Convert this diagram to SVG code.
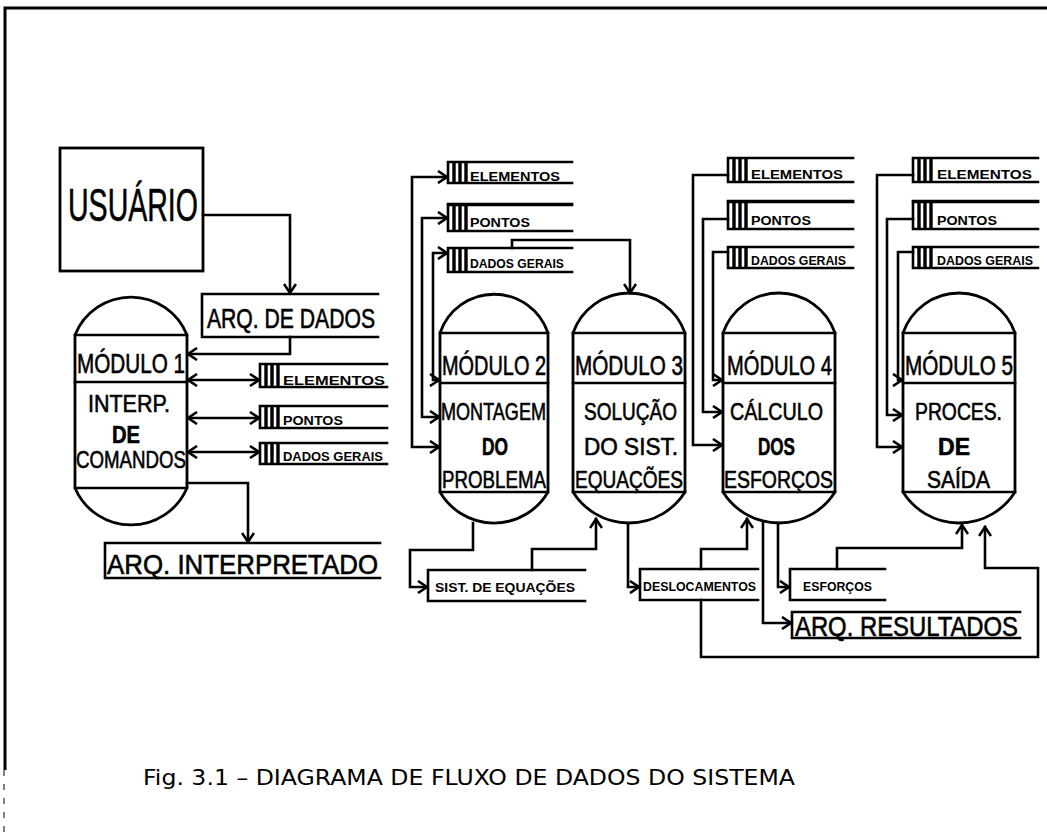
<svg xmlns="http://www.w3.org/2000/svg" width="1047" height="832" viewBox="0 0 1047 832">
<defs>
<style>
.ln{fill:none;stroke:#000;stroke-width:2.6;stroke-linejoin:miter;stroke-linecap:square}
.bar{fill:none;stroke:#000;stroke-width:3.4}
.sh{fill:#fff;stroke:#000;stroke-width:2.8}
.big{font-family:"Liberation Sans",Arial,sans-serif;font-size:27px;fill:#000;stroke:#000;stroke-width:0.6}
.mid{font-family:"Liberation Sans",Arial,sans-serif;font-size:24px;fill:#000;stroke:#000;stroke-width:0.6}
.sm{font-family:"Liberation Sans",Arial,sans-serif;font-size:12px;font-weight:bold;fill:#000}
.ttl{font-family:"DejaVu Sans",sans-serif;font-size:22px;fill:#000}
</style>
<marker id="ah" markerUnits="userSpaceOnUse" markerWidth="14" markerHeight="14" refX="11" refY="7" orient="auto-start-reverse">
<path d="M2,1 L11,7 L2,13" fill="none" stroke="#000" stroke-width="2.6"/>
</marker>
</defs>
<rect width="1047" height="832" fill="#fff"/>
<!-- frame -->
<path d="M5,770 V8 H1047" fill="none" stroke="#000" stroke-width="3"/>
<path d="M4,770 V832" fill="none" stroke="#000" stroke-width="1" stroke-dasharray="6,8"/>

<!-- USUARIO -->
<g id="usuario">
<rect x="60" y="148" width="143" height="123" class="sh"/>
<text x="68" y="221" class="big" style="font-size:46px" textLength="130" lengthAdjust="spacingAndGlyphs">USUÁRIO</text>
</g>

<!-- stores -->
<g id="arq-dados">
<path d="M378,294 H202 V337 H378" class="ln"/>
<text x="207" y="328" class="big" textLength="168" lengthAdjust="spacingAndGlyphs">ARQ. DE DADOS</text>
</g>
<g id="arq-interpretado">
<path d="M380,543 H105 V578 H380" class="ln"/>
<text x="107" y="574" class="big" textLength="271" lengthAdjust="spacingAndGlyphs">ARQ. INTERPRETADO</text>
</g>
<g id="arq-resultados">
<path d="M1020,612 H792 V638 H1020" class="ln"/>
<text x="795" y="636" class="big" textLength="223" lengthAdjust="spacingAndGlyphs">ARQ. RESULTADOS</text>
</g>

<!-- module 1 stores -->
<g id="m1-elementos">
<path d="M387,364 H260 V387 H387" class="ln"/>
<path d="M266,364 V387 M272,364 V387 M278,364 V387" class="bar"/>
<text x="283" y="385" class="sm" textLength="102" lengthAdjust="spacingAndGlyphs">ELEMENTOS</text>
</g>
<g id="m1-pontos">
<path d="M387,406 H260 V428 H387" class="ln"/>
<path d="M266,406 V428 M272,406 V428 M278,406 V428" class="bar"/>
<text x="283" y="425" class="sm" textLength="60" lengthAdjust="spacingAndGlyphs">PONTOS</text>
</g>
<g id="m1-dados">
<path d="M387,443 H260 V464 H387" class="ln"/>
<path d="M266,443 V464 M272,443 V464 M278,443 V464" class="bar"/>
<text x="283" y="461" class="sm" textLength="100" lengthAdjust="spacingAndGlyphs">DADOS GERAIS</text>
</g>

<!-- module 2 stores -->
<g id="m2-elementos">
<path d="M572,162 H448 V183 H572" class="ln"/>
<path d="M454,162 V183 M460,162 V183 M466,162 V183" class="bar"/>
<text x="470" y="181" class="sm" textLength="90" lengthAdjust="spacingAndGlyphs">ELEMENTOS</text>
</g>
<g id="m2-pontos">
<path d="M572,205 H448 V231 H572" class="ln"/>
<path d="M454,205 V231 M460,205 V231 M466,205 V231" class="bar"/>
<path d="M448,204 H572" class="ln" stroke-width="4"/>
<text x="470" y="227" class="sm" textLength="60" lengthAdjust="spacingAndGlyphs">PONTOS</text>
</g>
<g id="m2-dados">
<path d="M572,248 H448 V272 H572" class="ln"/>
<path d="M454,248 V272 M460,248 V272 M466,248 V272" class="bar"/>
<text x="470" y="268" class="sm" textLength="94" lengthAdjust="spacingAndGlyphs">DADOS GERAIS</text>
</g>

<!-- module 4 stores -->
<g id="m4-elementos">
<path d="M853,158 H728 V182 H853" class="ln"/>
<path d="M734,158 V182 M740,158 V182 M746,158 V182" class="bar"/>
<text x="751" y="179" class="sm" textLength="92" lengthAdjust="spacingAndGlyphs">ELEMENTOS</text>
</g>
<g id="m4-pontos">
<path d="M853,202 H728 V229 H853" class="ln"/>
<path d="M734,202 V229 M740,202 V229 M746,202 V229" class="bar"/>
<path d="M728,201 H853" class="ln" stroke-width="4"/>
<text x="751" y="225" class="sm" textLength="60" lengthAdjust="spacingAndGlyphs">PONTOS</text>
</g>
<g id="m4-dados">
<path d="M853,247 H728 V268 H853" class="ln"/>
<path d="M734,247 V268 M740,247 V268 M746,247 V268" class="bar"/>
<text x="751" y="265" class="sm" textLength="95" lengthAdjust="spacingAndGlyphs">DADOS GERAIS</text>
</g>

<!-- module 5 stores -->
<g id="m5-elementos">
<path d="M1038,158 H913 V182 H1038" class="ln"/>
<path d="M919,158 V182 M925,158 V182 M931,158 V182" class="bar"/>
<text x="937" y="179" class="sm" textLength="95" lengthAdjust="spacingAndGlyphs">ELEMENTOS</text>
</g>
<g id="m5-pontos">
<path d="M1038,202 H913 V229 H1038" class="ln"/>
<path d="M919,202 V229 M925,202 V229 M931,202 V229" class="bar"/>
<path d="M913,201 H1038" class="ln" stroke-width="4"/>
<text x="937" y="225" class="sm" textLength="60" lengthAdjust="spacingAndGlyphs">PONTOS</text>
</g>
<g id="m5-dados">
<path d="M1038,247 H913 V268 H1038" class="ln"/>
<path d="M919,247 V268 M925,247 V268 M931,247 V268" class="bar"/>
<text x="937" y="265" class="sm" textLength="96" lengthAdjust="spacingAndGlyphs">DADOS GERAIS</text>
</g>

<!-- bottom stores -->
<g id="sist-equacoes">
<path d="M585,570 H428 V601 H585" class="ln"/>
<text x="435" y="592" class="sm" textLength="140" lengthAdjust="spacingAndGlyphs">SIST. DE EQUAÇÕES</text>
</g>
<g id="deslocamentos">
<path d="M758,569 H640 V600 H758" class="ln"/>
<text x="643" y="591" class="sm" textLength="113" lengthAdjust="spacingAndGlyphs">DESLOCAMENTOS</text>
</g>
<g id="esforcos">
<path d="M885,569 H790 V600 H885" class="ln"/>
<text x="803" y="591" class="sm" textLength="69" lengthAdjust="spacingAndGlyphs">ESFORÇOS</text>
</g>

<!-- modules -->
<g id="modulo1">
<path d="M75,335 A60.3,60.3 0 0 1 187,335 V488 A60.9,60.9 0 0 1 75,488 Z" class="sh"/>
<path d="M75,335 H187 M75,382 H187 M75,488 H187" class="ln"/>
<text x="77" y="373" class="big" textLength="108" lengthAdjust="spacingAndGlyphs">MÓDULO 1</text>
<text x="88" y="412" class="mid" textLength="82" lengthAdjust="spacingAndGlyphs">INTERP.</text>
<text x="112" y="443" class="mid" style="font-weight:bold" textLength="28" lengthAdjust="spacingAndGlyphs">DE</text>
<text x="76" y="468" class="mid" textLength="110" lengthAdjust="spacingAndGlyphs">COMANDOS</text>
</g>
<g id="modulo2">
<path d="M440,333 A57,57 0 0 1 548,333 V492 A62.5,62.5 0 0 1 440,492 Z" class="sh"/>
<path d="M440,333 H548 M440,383 H548 M440,492 H548" class="ln"/>
<text x="442" y="375" class="big" textLength="104" lengthAdjust="spacingAndGlyphs">MÓDULO 2</text>
<text x="441" y="420" class="mid" textLength="105" lengthAdjust="spacingAndGlyphs">MONTAGEM</text>
<text x="482" y="455" class="mid" style="font-weight:bold" textLength="26" lengthAdjust="spacingAndGlyphs">DO</text>
<text x="442" y="488" class="mid" textLength="104" lengthAdjust="spacingAndGlyphs">PROBLEMA</text>
</g>
<g id="modulo3">
<path d="M573,333 A59.2,59.2 0 0 1 685,333 V492 A66.1,66.1 0 0 1 573,492 Z" class="sh"/>
<path d="M573,333 H685 M573,383 H685 M573,492 H685" class="ln"/>
<text x="575" y="375" class="big" textLength="108" lengthAdjust="spacingAndGlyphs">MÓDULO 3</text>
<text x="584" y="420" class="mid" textLength="93" lengthAdjust="spacingAndGlyphs">SOLUÇÃO</text>
<text x="584" y="455" class="mid" textLength="94" lengthAdjust="spacingAndGlyphs">DO SIST.</text>
<text x="575" y="488" class="mid" textLength="108" lengthAdjust="spacingAndGlyphs">EQUAÇÕES</text>
</g>
<g id="modulo4">
<path d="M723,333 A59.2,59.2 0 0 1 835,333 V492 A66.1,66.1 0 0 1 723,492 Z" class="sh"/>
<path d="M723,333 H835 M723,383 H835 M723,492 H835" class="ln"/>
<text x="727" y="375" class="big" textLength="105" lengthAdjust="spacingAndGlyphs">MÓDULO 4</text>
<text x="730" y="420" class="mid" textLength="93" lengthAdjust="spacingAndGlyphs">CÁLCULO</text>
<text x="758" y="455" class="mid" style="font-weight:bold" textLength="37" lengthAdjust="spacingAndGlyphs">DOS</text>
<text x="724" y="488" class="mid" textLength="109" lengthAdjust="spacingAndGlyphs">ESFORÇOS</text>
</g>
<g id="modulo5">
<path d="M903,333 A59.2,59.2 0 0 1 1015,333 V492 A66.1,66.1 0 0 1 903,492 Z" class="sh"/>
<path d="M903,333 H1015 M903,383 H1015 M903,492 H1015" class="ln"/>
<text x="905" y="375" class="big" textLength="108" lengthAdjust="spacingAndGlyphs">MÓDULO 5</text>
<text x="915" y="420" class="mid" textLength="87" lengthAdjust="spacingAndGlyphs">PROCES.</text>
<text x="938" y="455" class="mid" style="font-weight:bold" textLength="32" lengthAdjust="spacingAndGlyphs">DE</text>
<text x="927" y="488" class="mid" textLength="63" lengthAdjust="spacingAndGlyphs">SAÍDA</text>
</g>

<!-- connectors -->
<g id="connectors" class="ln" marker-end="url(#ah)">
<path d="M203,215 H290 V293"/>
<path d="M290,337 V354 H188"/>
<path d="M188,380 H259" marker-start="url(#ah)"/>
<path d="M188,418 H259" marker-start="url(#ah)"/>
<path d="M188,452 H259" marker-start="url(#ah)"/>
<path d="M187,483 H248 V542"/>
<!-- module 2 -->
<path d="M447,177 H412 V447 H439" marker-start="url(#ah)"/>
<path d="M447,218 H422 V417 H439" marker-start="url(#ah)"/>
<path d="M447,253 H433 V380 H439" marker-start="url(#ah)"/>
<path d="M512,248 V240 H630 V293"/>
<path d="M473,523 V550 H410 V587 H427"/>
<path d="M532,570 V549 H596 V519"/>
<!-- module 3 -->
<path d="M628,524 V587 H639"/>
<!-- module 4 -->
<path d="M728,175 H693 V445 H722"/>
<path d="M728,219 H703 V412 H722"/>
<path d="M728,252 H713 V380 H722"/>
<path d="M701,569 V549 H747 V519"/>
<path d="M763,522 V623 H791"/>
<path d="M778,523 V587 H789"/>
<!-- module 5 -->
<path d="M913,175 H877 V447 H902"/>
<path d="M913,219 H887 V415 H902"/>
<path d="M913,252 H898 V380 H902"/>
<path d="M701,600 V657 H1038 V568 H985 V527"/>
<path d="M837,569 V548 H962 V525"/>
</g>

<text x="143" y="785" class="ttl" textLength="652" lengthAdjust="spacingAndGlyphs">Fig. 3.1 – DIAGRAMA DE FLUXO DE DADOS DO SISTEMA</text>
</svg>
